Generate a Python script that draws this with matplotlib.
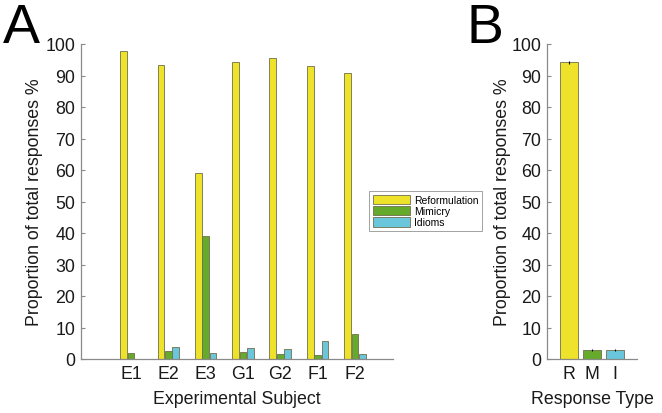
import matplotlib
matplotlib.use("Agg")
import matplotlib.pyplot as plt
from matplotlib.patches import Patch
import numpy as np

plt.rcParams['font.family'] = ['Liberation Sans', 'DejaVu Sans']

subjects = ["E1", "E2", "E3", "G1", "G2", "F1", "F2"]
reformulation = [97.9, 93.4, 59.0, 94.3, 95.4, 93.0, 90.8]
mimicry = [2.0, 2.6, 39.0, 2.1, 1.6, 1.2, 7.9]
idioms = [0.0, 3.7, 1.9, 3.5, 3.1, 5.6, 1.5]
series_names = ["Reformulation", "Mimicry", "Idioms"]

types = ["R", "M", "I"]
type_means = [94.2, 2.9, 2.8]
type_err = [0.5, 0.4, 0.35]

yellow = "#EEE22A"
green = "#66AA2C"
cyan = "#6AC6DA"
edge = "#6f6f4a"
spine_c = "#8a8a8a"
text_c = "#1a1a1a"

fig = plt.figure(figsize=(6.62, 4.14), dpi=100)

def style(ax):
    for s in ["top", "right"]:
        ax.spines[s].set_visible(False)
    for s in ["left", "bottom"]:
        ax.spines[s].set_color(spine_c)
        ax.spines[s].set_linewidth(0.9)
    ax.tick_params(direction="in", length=3, color=spine_c, labelsize=12.8,
                   labelcolor=text_c, pad=4)
    ax.set_ylim(0, 100)
    ax.set_yticks(np.arange(0, 101, 10))

# Panel A
axA = fig.add_axes([81/662, 1-360/414, 312/662, 315/414])
x = np.arange(1, len(subjects)+1)
w = 0.18
for off, vals, col in zip([-0.2, 0, 0.2], [reformulation, mimicry, idioms], [yellow, green, cyan]):
    axA.bar(x+off, vals, width=w, color=col, edgecolor=edge, linewidth=0.6)
axA.set_xlim(-0.34, 8.02)
axA.set_xticks(x)
axA.set_xticklabels(subjects)
style(axA)
axA.tick_params(axis="x", length=0)
axA.set_xlabel("Experimental Subject", fontsize=12.8, color=text_c, labelpad=6)
axA.set_ylabel("Proportion of total responses %", fontsize=12.8, color=text_c, labelpad=1.5)
handles = [Patch(facecolor=c, edgecolor=edge, linewidth=0.6) for c in [yellow, green, cyan]]
leg = fig.legend(handles, series_names, loc="upper left",
                 bbox_to_anchor=(369/662, 1-192/414), fontsize=7.5,
                 frameon=True, fancybox=False, edgecolor="#777777",
                 handlelength=3.6, handleheight=1.0, handletextpad=0.4,
                 labelspacing=0.1, borderpad=0.35, borderaxespad=0)
leg.get_frame().set_linewidth(0.6)

# Panel B
axB = fig.add_axes([547/662, 1-360/414, 90/662, 315/414])
xb = np.arange(1, len(types)+1)
axB.bar(xb, type_means, width=0.8, color=[yellow, green, cyan], edgecolor=edge, linewidth=0.6,
        yerr=type_err, error_kw=dict(ecolor="black", elinewidth=0.8, capsize=0))
axB.set_xlim(0.04, 3.96)
axB.set_xticks(xb)
axB.set_xticklabels(types)
style(axB)
axB.tick_params(axis="x", length=0)
axB.set_xlabel("Response Type", fontsize=12.8, color=text_c, labelpad=6)
axB.set_ylabel("Proportion of total responses %", fontsize=12.8, color=text_c, labelpad=0.5)

fig.text(3/662, 1-3/414, "A", fontsize=40, va="top", ha="left", color="black")
fig.text(467/662, 1-3/414, "B", fontsize=40, va="top", ha="left", color="black")

fig.savefig("out.png", dpi=100)
